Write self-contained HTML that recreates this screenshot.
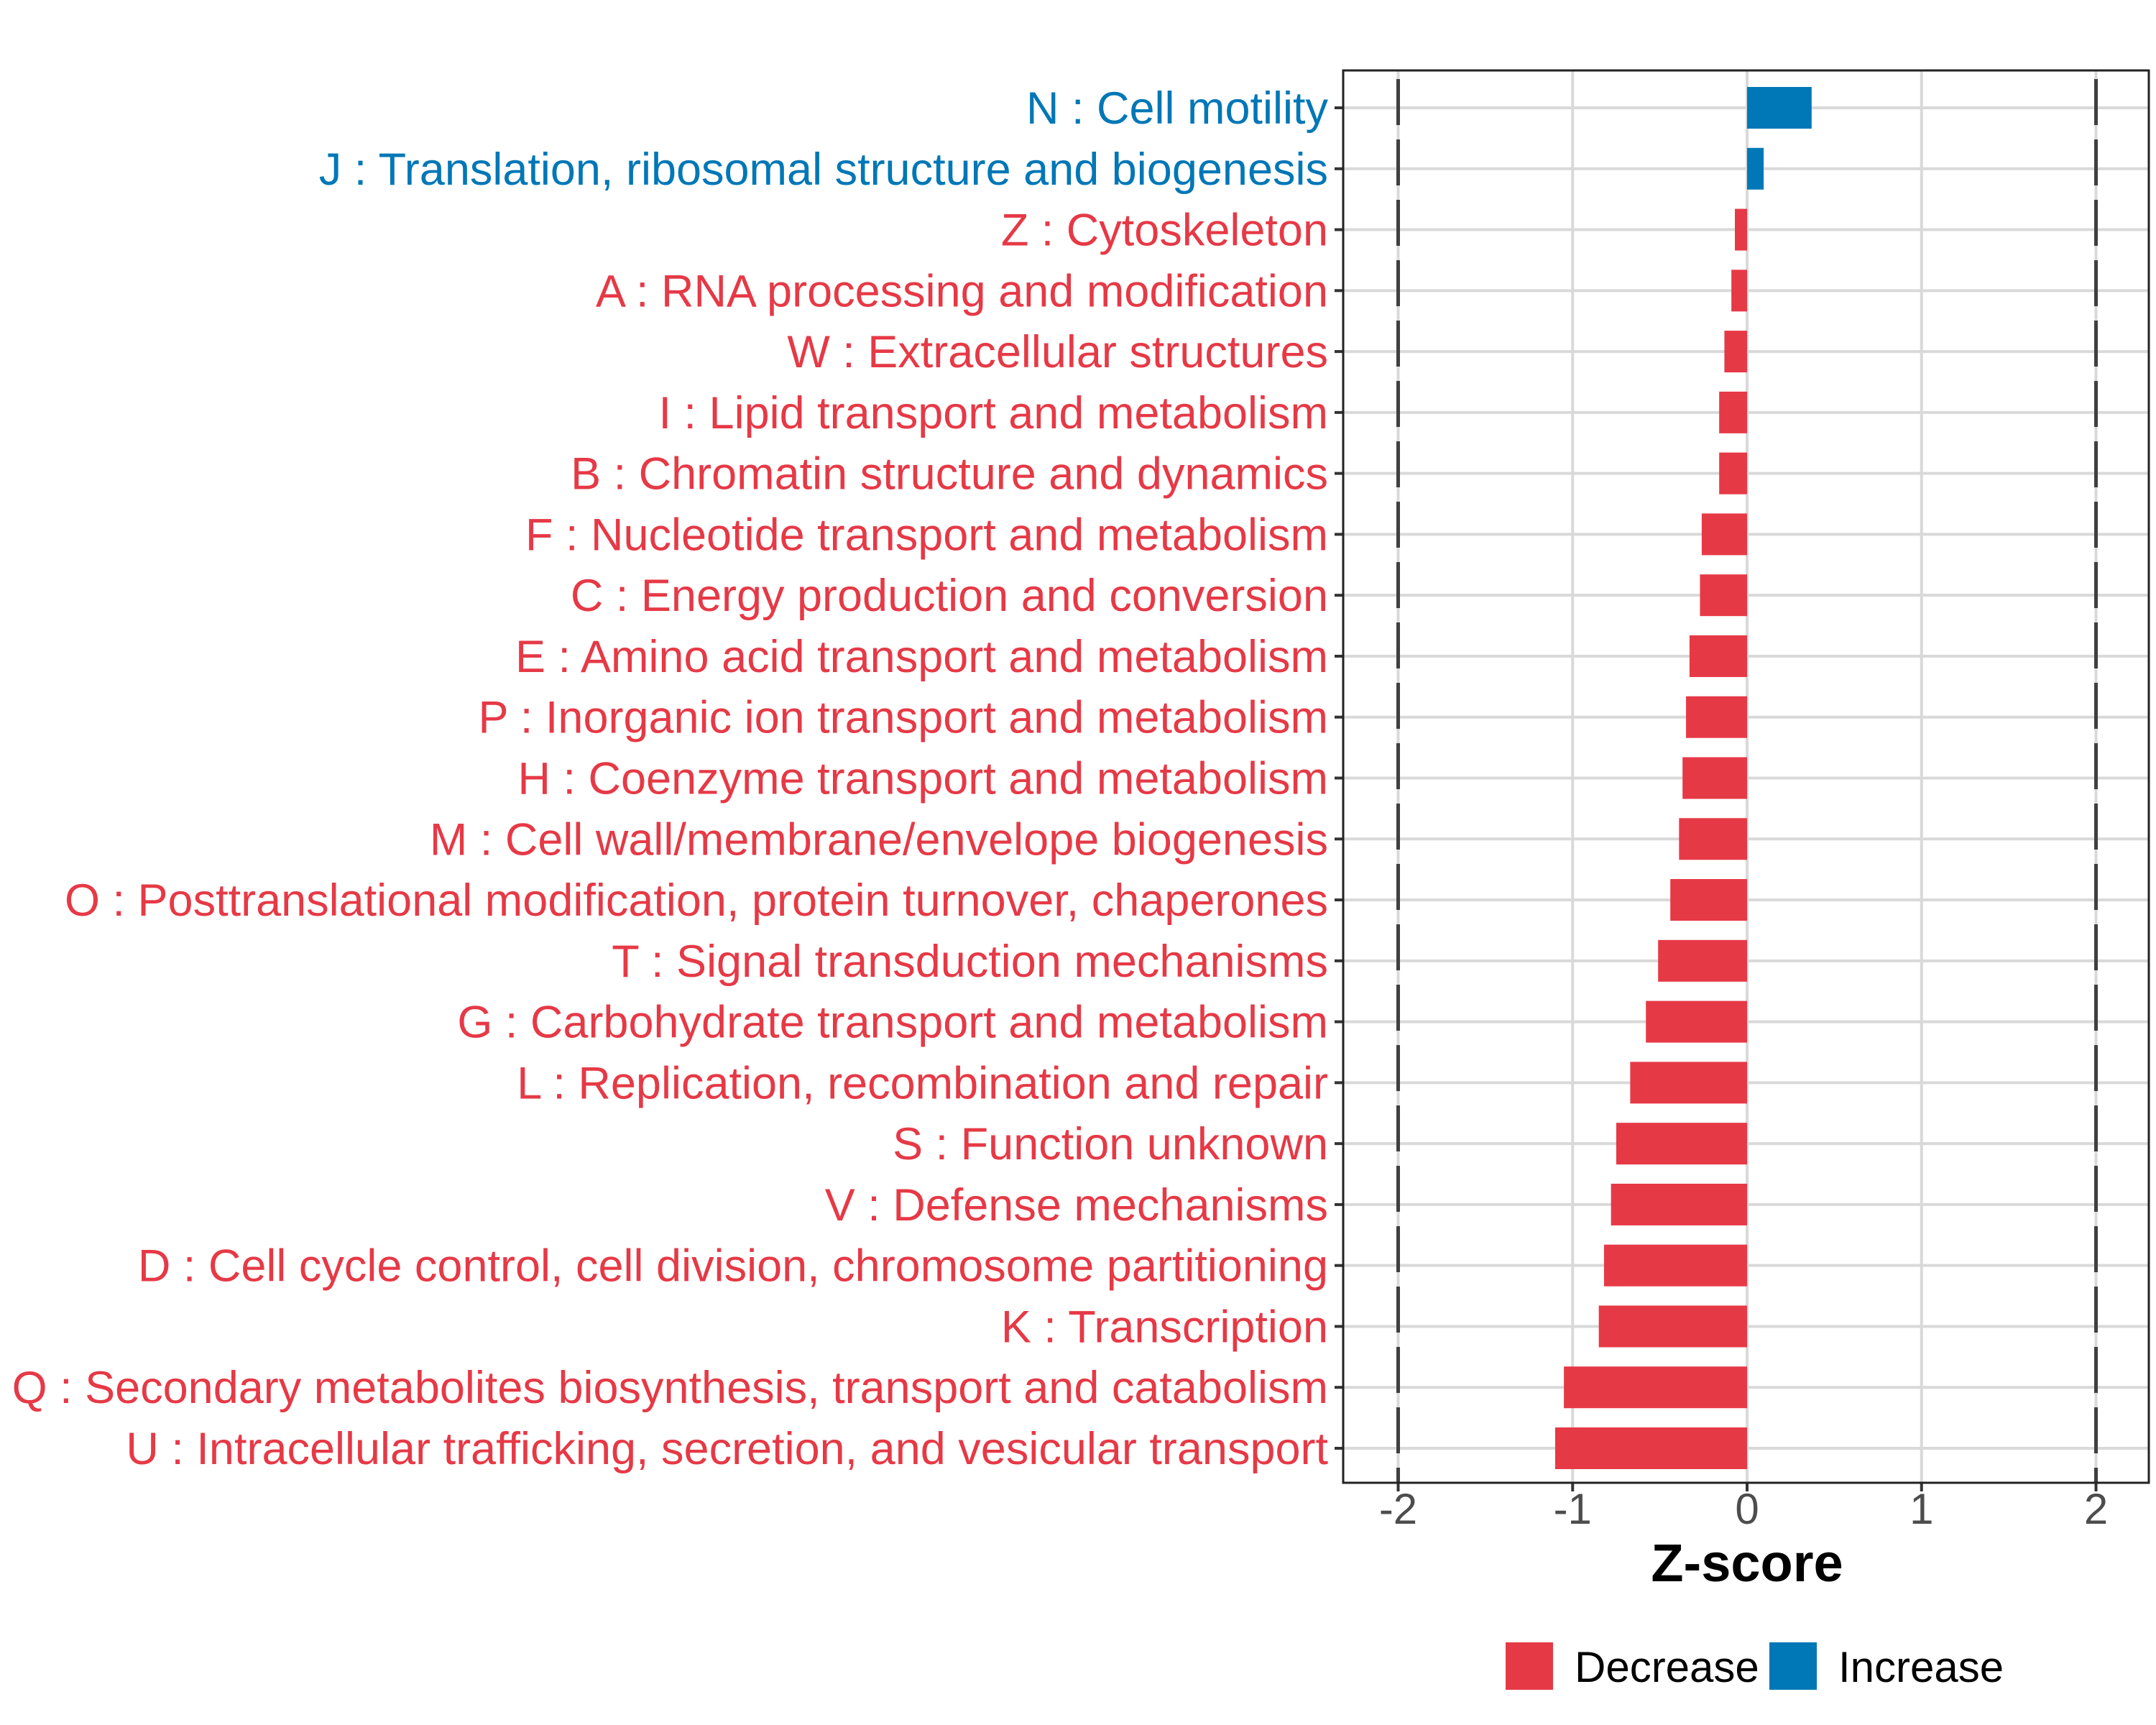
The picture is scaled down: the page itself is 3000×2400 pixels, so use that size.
<!DOCTYPE html>
<html><head><meta charset="utf-8"><style>
html,body{margin:0;padding:0;background:#fff}
svg{display:block}
text{font-family:"Liberation Sans",Arial,sans-serif}
</style></head><body>
<svg id="chart" width="3000" height="2400" viewBox="0 0 3000 2400" xmlns="http://www.w3.org/2000/svg">
<rect width="3000" height="2400" fill="#fff"/>
<g id="grid"></g><g id="bars"></g><g id="axes"></g><g id="labels"></g>
</svg>
<script>
const categories = ["N : Cell motility","J : Translation, ribosomal structure and biogenesis","Z : Cytoskeleton","A : RNA processing and modification","W : Extracellular structures","I : Lipid transport and metabolism","B : Chromatin structure and dynamics","F : Nucleotide transport and metabolism","C : Energy production and conversion","E : Amino acid transport and metabolism","P : Inorganic ion transport and metabolism","H : Coenzyme transport and metabolism","M : Cell wall/membrane/envelope biogenesis","O : Posttranslational modification, protein turnover, chaperones","T : Signal transduction mechanisms","G : Carbohydrate transport and metabolism","L : Replication, recombination and repair","S : Function unknown","V : Defense mechanisms","D : Cell cycle control, cell division, chromosome partitioning","K : Transcription","Q : Secondary metabolites biosynthesis, transport and catabolism","U : Intracellular trafficking, secretion, and vesicular transport"];
const zscores = [0.37,0.095,-0.07,-0.09,-0.13,-0.16,-0.16,-0.26,-0.27,-0.33,-0.35,-0.37,-0.39,-0.44,-0.51,-0.58,-0.67,-0.75,-0.78,-0.82,-0.85,-1.05,-1.10];
const xTicks = [-2,-1,0,1,2];
const xTickLabels = ["-2","-1","0","1","2"];
const thresholds = [-2,2];

const NS="http://www.w3.org/2000/svg";
const P={l:1869,r:2990,t:98,b:2063};
const x0=2431, unit=242.75;
const xs=v=>x0+v*unit;
const rowTop=150, rowStep=(2015-150)/22;
const ys=i=>rowTop+i*rowStep;
const RED="#E63946", BLUE="#0077B6";
function mk(tag,attrs,parent){const e=document.createElementNS(NS,tag);for(const k in attrs)e.setAttribute(k,attrs[k]);parent.appendChild(e);return e;}
const grid=document.getElementById('grid'),bars=document.getElementById('bars'),axes=document.getElementById('axes'),labels=document.getElementById('labels');

xTicks.forEach((t,i)=>{
  const g=mk('line',{x1:xs(t),x2:xs(t),y1:P.t,y2:P.b,stroke:'#d9d9d9','stroke-width':4},grid);
  
  
  const tk=mk('line',{x1:xs(t),x2:xs(t),y1:P.b,y2:P.b+12,stroke:'#333','stroke-width':4},axes);
  
  
  const tl=mk('text',{x:xs(t),y:2120,'text-anchor':'middle','font-size':60,fill:'#4d4d4d'},axes);
  tl.textContent=xTickLabels[i];
  
  
});
categories.forEach((c,i)=>{
  const g=mk('line',{x1:P.l,x2:P.r,y1:ys(i),y2:ys(i),stroke:'#d9d9d9','stroke-width':4},grid);
  
  
});
thresholds.forEach(t=>{
  const d=mk('line',{x1:xs(t),x2:xs(t),y1:P.t+12,y2:P.b,stroke:'#404040','stroke-width':5,'stroke-dasharray':'64 20'},grid);
  
  
});
const bh=58;
zscores.forEach((v,i)=>{
  const col=v>=0?BLUE:RED;
  const r=mk('rect',{x:Math.min(xs(0),xs(v)),y:ys(i)-bh/2,width:Math.abs(xs(v)-xs(0)),height:bh,fill:col},bars);
  
  
  const tk=mk('line',{x1:P.l-12,x2:P.l,y1:ys(i),y2:ys(i),stroke:'#333','stroke-width':4},axes);
  
  
  const tl=mk('text',{x:1848,y:ys(i)+22,'text-anchor':'end','font-size':63,fill:col},labels);
  tl.textContent=categories[i];
  
  
});
const frame=mk('rect',{x:P.l,y:P.t,width:P.r-P.l,height:P.b-P.t,fill:'none',stroke:'#222','stroke-width':3},axes);


const xt=mk('text',{x:xs(0),y:2200,'text-anchor':'middle','font-size':74,'font-weight':'bold',fill:'#000'},labels);
xt.textContent='Z-score';


const legend=[["Decrease",RED,2095,2191],["Increase",BLUE,2462,2558]];
legend.forEach(([lab,col,sx,tx])=>{
  const s=mk('rect',{x:sx,y:2285,width:66,height:66,fill:col},labels);
  
  
  const t=mk('text',{x:tx,y:2340,'font-size':60,fill:'#000'},labels);
  t.textContent=lab;
  
  
});
</script>
</body></html>
